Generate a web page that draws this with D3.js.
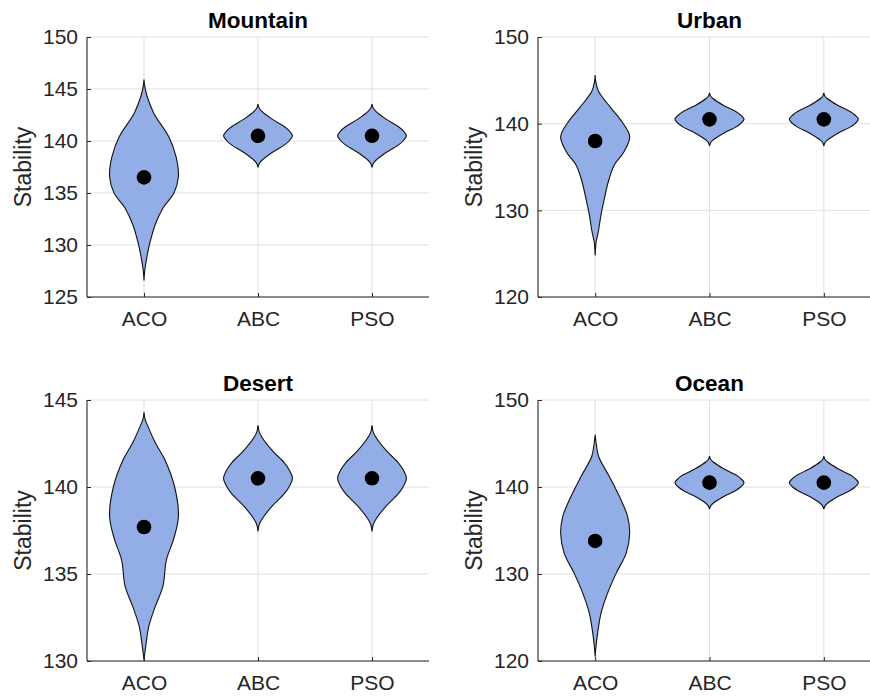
<!DOCTYPE html>
<html>
<head>
<meta charset="utf-8">
<script src="https://cdn.jsdelivr.net/npm/d3@7"></script>
<style>
  html, body { margin: 0; padding: 0; background: #fff; }
  svg { display: block; }
  text { font-family: "Liberation Sans", Arial, Helvetica, sans-serif; }
</style>
</head>
<body>
<svg id="chart" width="870" height="696"></svg>
<script>
// ---------------- DATA ----------------
const categories = ["ACO", "ABC", "PSO"];
const panelTitles = ["Mountain", "Urban", "Desert", "Ocean"];
const yDomains = [[125, 150], [120, 150], [130, 145], [120, 150]];
const yTicks = [
  [125, 130, 135, 140, 145, 150],
  [120, 130, 140, 150],
  [130, 135, 140, 145],
  [120, 130, 140, 150]
];
// mean markers per panel, per category
const meansMountain = [136.5, 140.5, 140.5];
const meansUrban    = [138.0, 140.5, 140.5];
const meansDesert   = [137.7, 140.5, 140.5];
const meansOcean    = [133.8, 140.5, 140.5];

// violin outlines: [stability value, relative density]
const acoMountain = [[145.9,0],[145.3,0.02],[144.3,0.09],[142.7,0.28],[140.4,0.72],[138.5,0.93],[136.6,1.0],[135.0,0.87],[133.6,0.56],[132.0,0.33],[130.2,0.17],[128.6,0.07],[127.5,0.02],[126.6,0]];
const acoUrban    = [[145.6,0],[144.8,0.02],[143.7,0.10],[141.8,0.46],[140.2,0.78],[138.5,1.0],[136.8,0.84],[135.2,0.55],[133.3,0.38],[131.4,0.27],[129.5,0.17],[127.5,0.09],[126.4,0.03],[124.8,0]];
const acoDesert   = [[144.3,0],[143.9,0.03],[143.5,0.11],[142.5,0.34],[141.55,0.61],[140.0,0.89],[138.3,1.0],[137.0,0.86],[135.8,0.65],[134.3,0.55],[133.1,0.32],[132.0,0.14],[131.0,0.06],[130.05,0]];
const acoOcean    = [[146.0,0],[145.0,0.03],[143.5,0.10],[141.2,0.41],[138.5,0.75],[136.6,0.94],[134.7,1.0],[132.4,0.90],[130.1,0.61],[127.8,0.36],[125.5,0.17],[123.2,0.07],[121.5,0.02],[120.5,0]];
const abcProfile  = [[143.55,0],[143.2,0.03],[142.9,0.10],[142.1,0.41],[141.4,0.76],[141.0,0.9],[140.5,1.0],[140.0,0.9],[139.6,0.76],[138.9,0.41],[138.1,0.10],[137.8,0.03],[137.45,0]];
const psoProfile  = [[143.55,0],[143.2,0.03],[142.9,0.10],[142.1,0.41],[141.4,0.76],[141.0,0.9],[140.5,1.0],[140.0,0.9],[139.6,0.76],[138.9,0.41],[138.1,0.10],[137.8,0.03],[137.45,0]];

const panelMeans = [meansMountain, meansUrban, meansDesert, meansOcean];
const panelProfiles = [
  [acoMountain, abcProfile, psoProfile],
  [acoUrban, abcProfile, psoProfile],
  [acoDesert, abcProfile, psoProfile],
  [acoOcean, abcProfile, psoProfile]
];

// ---------------- LAYOUT ----------------
const boxes = [
  {l: 87,  r: 429, t: 37,  b: 297},
  {l: 538, r: 881, t: 37,  b: 297},
  {l: 87,  r: 429, t: 400, b: 661},
  {l: 538, r: 881, t: 400, b: 661}
];
const violinFill = "#93aee6";
const axisColor = "#262626";
const gridColor = "#e0e0e0";

const svg = d3.select("#chart");

boxes.forEach((bx, i) => {
  const g = svg.append("g");
  const x = d3.scalePoint().domain(categories).range([bx.l, bx.r]).padding(0.5);
  const y = d3.scaleLinear().domain(yDomains[i]).range([bx.b, bx.t]);
  const w = d3.scaleLinear().domain([0, 1]).range([0, x.step() * 0.302]);

  // grid
  g.append("g").selectAll("line.hg").data(yTicks[i]).join("line")
    .attr("x1", bx.l).attr("x2", bx.r)
    .attr("y1", d => y(d)).attr("y2", d => y(d))
    .attr("stroke", gridColor).attr("stroke-width", 1);
  g.append("g").selectAll("line.vg").data(categories).join("line")
    .attr("x1", d => x(d)).attr("x2", d => x(d))
    .attr("y1", bx.t).attr("y2", bx.b)
    .attr("stroke", gridColor).attr("stroke-width", 1);

  // violins
  categories.forEach((c, j) => {
    const prof = panelProfiles[i][j];
    const area = d3.area()
      .y(d => y(d[0]))
      .x0(d => x(c) - w(d[1]))
      .x1(d => x(c) + w(d[1]))
      .curve(d3.curveCatmullRom.alpha(0.5));
    g.append("path").datum(prof)
      .attr("d", area)
      .attr("fill", violinFill)
      .attr("stroke", "#111")
      .attr("stroke-width", 1.1);
  });

  // means
  g.append("g").selectAll("circle").data(panelMeans[i]).join("circle")
    .attr("cx", (d, j) => x(categories[j]))
    .attr("cy", d => y(d))
    .attr("r", 7.3)
    .attr("fill", "#000");

  // axes
  const yAxis = d3.axisLeft(y).tickValues(yTicks[i]).tickSize(-4).tickPadding(9).tickFormat(d3.format("d"));
  const yg = g.append("g").attr("transform", `translate(${bx.l},0)`).call(yAxis);
  const xAxis = d3.axisBottom(x).tickSize(-4).tickPadding(14);
  const xg = g.append("g").attr("transform", `translate(0,${bx.b})`).call(xAxis);
  [yg, xg].forEach(a => {
    a.select(".domain").attr("stroke", axisColor).attr("stroke-width", 1.1);
    a.selectAll(".tick line").attr("stroke", axisColor);
    a.selectAll(".tick text").attr("fill", axisColor)
      .style("font-size", "21px")
      .style("font-family", '"Liberation Sans", Arial, sans-serif');
  });
  yg.select(".domain").attr("d", `M0,${bx.t}V${bx.b}`);
  xg.select(".domain").attr("d", `M${bx.l},0H${bx.r}`);

  // title
  g.append("text")
    .attr("x", (bx.l + bx.r) / 2).attr("y", bx.t - 9)
    .attr("text-anchor", "middle")
    .attr("font-weight", "bold")
    .attr("font-size", "22.5px")
    .attr("fill", "#000")
    .text(panelTitles[i]);

  // y label
  g.append("text")
    .attr("transform", `translate(${bx.l - 56},${(bx.t + bx.b) / 2}) rotate(-90)`)
    .attr("text-anchor", "middle")
    .attr("font-size", "23px")
    .attr("fill", axisColor)
    .text("Stability");
});
</script>
</body>
</html>
